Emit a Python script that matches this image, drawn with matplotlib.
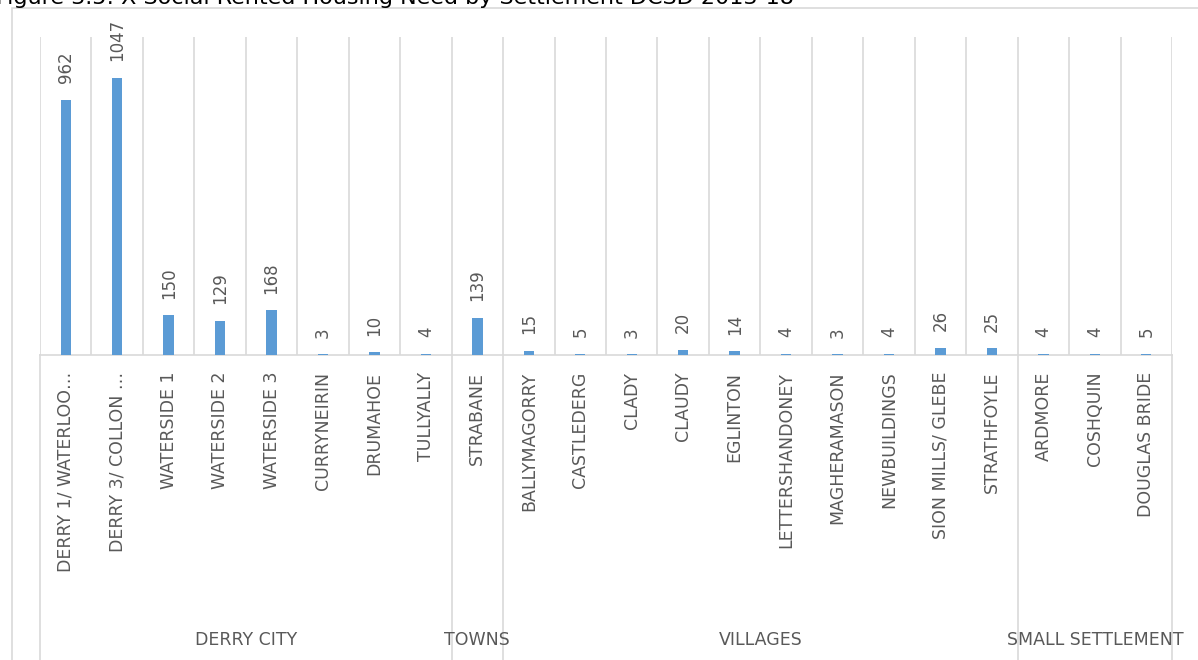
import numpy as np
import matplotlib.pyplot as plt
from matplotlib.patches import Rectangle
import matplotlib.transforms as mtransforms

# settlement need figures
settlements = ['DERRY 1/ WATERLOO…', 'DERRY 3/ COLLON …', 'WATERSIDE 1', 'WATERSIDE 2',
               'WATERSIDE 3', 'CURRYNEIRIN', 'DRUMAHOE', 'TULLYALLY', 'STRABANE',
               'BALLYMAGORRY', 'CASTLEDERG', 'CLADY', 'CLAUDY', 'EGLINTON',
               'LETTERSHANDONEY', 'MAGHERAMASON', 'NEWBUILDINGS', 'SION MILLS/ GLEBE',
               'STRATHFOYLE', 'ARDMORE', 'COSHQUIN', 'DOUGLAS BRIDE']
need = [962, 1047, 150, 129, 168, 3, 10, 4, 139, 15, 5, 3, 20, 14, 4, 3, 4, 26, 25, 4, 4, 5]
groups = ['DERRY CITY', 'TOWNS', 'VILLAGES', 'SMALL SETTLEMENT']
group_sizes = [8, 1, 10, 3]

grey = '#595959'
gridc = '#d9d9d9'

fig = plt.figure(figsize=(11.98, 6.6), dpi=100)
ax = fig.add_axes([40/1198, 1-355/660, (1172-40)/1198, (355-37)/660])

# outer chart border
fig.patches.append(Rectangle((12/1198, -0.1), 1.2, 1-8/660+0.1, transform=fig.transFigure,
                             fill=False, edgecolor=gridc, linewidth=1.2))

# title (cut off at the top in the source image)
fig.text(-4/1198, 1-4/660, 'Figure 3.5: X Social Rented Housing Need by Settlement DCSD 2013-18',
         fontsize=16, color='black', va='baseline', ha='left')

x = np.arange(len(settlements))
ax.bar(x, need, width=0.2, color='#5B9BD5', zorder=3)

for xi, v in zip(x, need):
    ax.annotate(str(v), (xi, v), xytext=(0, 12), textcoords='offset points',
                rotation=90, ha='center', va='bottom', fontsize=12, color=grey)

ax.set_xlim(-0.5, len(settlements) - 0.5)
ax.set_ylim(0, 1200)
ax.set_yticks([])
ax.set_xticks(x)
ax.set_xticklabels(settlements, rotation=90, fontsize=12.5, color=grey, va='top')
ax.tick_params(axis='x', length=0, pad=12)

for s in ['top', 'right', 'left']:
    ax.spines[s].set_visible(False)
ax.spines['bottom'].set_color(gridc)
ax.spines['bottom'].set_linewidth(1.2)

# vertical separators between categories
for b in np.arange(-0.5, len(settlements), 1.0):
    ax.axvline(b, color=gridc, linewidth=1.2, zorder=1)

# group separators continue below the axis, with the group names
trans = mtransforms.blended_transform_factory(ax.transData, ax.transAxes)
edges = np.concatenate([[0], np.cumsum(group_sizes)]) - 0.5
for e in edges:
    ax.plot([e, e], [0, -1.2], color=gridc, linewidth=1.2, transform=trans, clip_on=False)
for g, a, b in zip(groups, edges[:-1], edges[1:]):
    ax.text((a + b) / 2, -(640-355)/318, g, transform=trans, ha='center', va='center',
            fontsize=12.5, color=grey)

fig.savefig('out.png', dpi=100)
